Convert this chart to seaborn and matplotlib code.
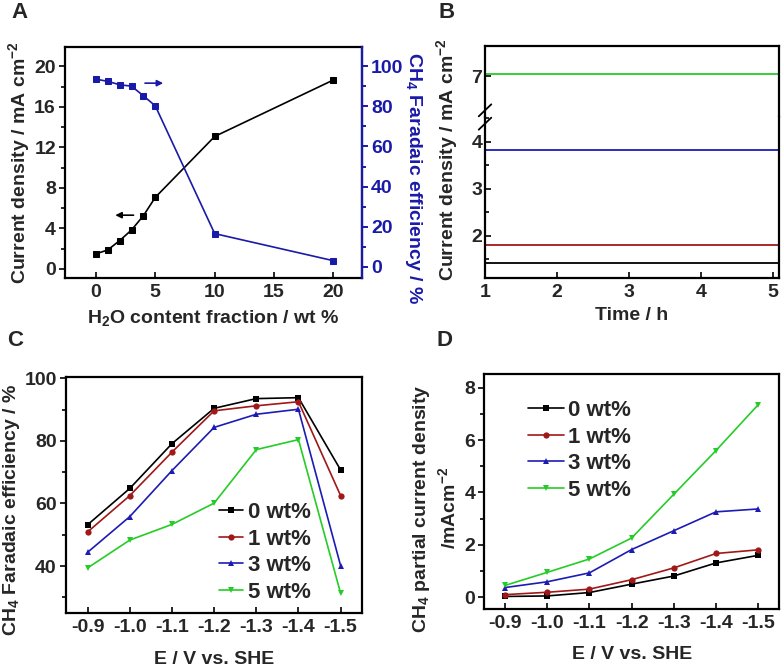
import numpy as np
import pandas as pd
import matplotlib
matplotlib.use('Agg')
import matplotlib.pyplot as plt
from matplotlib.ticker import MultipleLocator
import seaborn as sns

# ---- data ----
# panel A
h2o_wt = [0, 1, 2, 3, 4, 5, 10, 20]
current_a = [1.48, 1.87, 2.79, 3.84, 5.25, 7.06, 13.07, 18.65]
fe_a = [93.5, 92.4, 90.7, 90.0, 85.2, 80.2, 16.6, 3.1]

# panel B (stability, constant current over time)
time_h = [1.0, 5.1]
stab_labels = ['0 wt%', '1 wt%', '3 wt%', '5 wt%']
stab_current = [1.41, 1.80, 3.82, 7.05]

# panels C and D
potential = [-0.9, -1.0, -1.1, -1.2, -1.3, -1.4, -1.5]
potential_labels = ['-0.9', '-1.0', '-1.1', '-1.2', '-1.3', '-1.4', '-1.5']
water = ['0 wt%', '1 wt%', '3 wt%', '5 wt%']
fe_0 = [53.2, 64.8, 79.1, 90.4, 93.5, 93.8, 70.7]
fe_1 = [50.9, 62.5, 76.4, 89.6, 91.2, 92.5, 62.5]
fe_3 = [44.4, 55.8, 70.5, 84.3, 88.5, 90.1, 40.1]
fe_5 = [39.4, 48.3, 53.3, 60.1, 77.2, 80.4, 31.3]
jch4_0 = [0.03, 0.05, 0.18, 0.50, 0.81, 1.31, 1.60]
jch4_1 = [0.10, 0.19, 0.31, 0.67, 1.12, 1.67, 1.81]
jch4_3 = [0.37, 0.59, 0.93, 1.82, 2.54, 3.26, 3.37]
jch4_5 = [0.45, 0.95, 1.46, 2.26, 3.93, 5.60, 7.35]

colors = {'0 wt%': '#000000', '1 wt%': '#a01818', '3 wt%': '#1c1cb4', '5 wt%': '#26cc26'}
markers = {'0 wt%': 's', '1 wt%': 'o', '3 wt%': '^', '5 wt%': 'v'}
blue_a = '#1a1aa8'

# ---- style ----
sns.set_style('ticks')
base = 'Liberation Sans'
plt.rcParams['font.family'] = [base, 'DejaVu Sans']
plt.rcParams['font.weight'] = 'bold'
plt.rcParams['axes.labelweight'] = 'bold'
plt.rcParams['mathtext.fontset'] = 'custom'
plt.rcParams['mathtext.rm'] = base + ':bold'
plt.rcParams['mathtext.bf'] = base + ':bold'
plt.rcParams['mathtext.default'] = 'rm'
plt.rcParams['axes.unicode_minus'] = False
plt.rcParams['axes.linewidth'] = 1.6
plt.rcParams['axes.edgecolor'] = 'black'

FS = 14
W, H = 783, 667
fig = plt.figure(figsize=(W / 100, H / 100), dpi=100)


def px_axes(l, t, r, b):
    return fig.add_axes([l / W, 1 - b / H, (r - l) / W, (b - t) / H])


def style_ticks(ax, xdir='in', ydir='out'):
    ax.tick_params(axis='x', which='both', direction=xdir, labelsize=FS, width=1.4, pad=4)
    ax.tick_params(axis='x', which='major', length=4.5)
    ax.tick_params(axis='y', which='both', direction=ydir, labelsize=FS, width=1.4, pad=2)
    ax.tick_params(axis='y', which='major', length=4.5)
    ax.tick_params(axis='y', which='minor', length=3)


# ---- panel A ----
axA = px_axes(65, 47, 362, 278)
sns.lineplot(x=h2o_wt, y=current_a, ax=axA, color='black', marker='s',
             markersize=5, markeredgecolor='black', linewidth=1.2)
axA.set_xlim(-2.6, 22.4)
axA.set_ylim(-0.9, 21.9)
axA.set_xticks([0, 5, 10, 15, 20])
axA.set_yticks([0, 4, 8, 12, 16, 20])
axA.yaxis.set_minor_locator(MultipleLocator(2))
style_ticks(axA)
axA.set_xlabel('H$_2$O content fraction / wt %', fontsize=FS, labelpad=5)
axA.set_ylabel('Current density / mA cm$^{-2}$', fontsize=FS)
axA.yaxis.set_label_coords(-0.111, 0.5)

axA2 = axA.twinx()
sns.lineplot(x=h2o_wt, y=fe_a, ax=axA2, color=blue_a, marker='s',
             markersize=5, markeredgecolor=blue_a, linewidth=1.2)
axA2.set_ylim(-5.5, 109.5)
axA2.set_yticks([0, 20, 40, 60, 80, 100])
axA2.yaxis.set_minor_locator(MultipleLocator(10))
axA2.tick_params(axis='y', which='both', direction='out', labelsize=FS, width=1.4,
                 colors=blue_a, pad=2)
axA2.tick_params(axis='y', which='major', length=4.5)
axA2.tick_params(axis='y', which='minor', length=3)
axA2.spines['right'].set_color(blue_a)
axA2.set_ylabel('CH$_4$ Faradaic efficiency / %', fontsize=FS, color=blue_a,
                rotation=270, va='center')
axA2.yaxis.set_label_coords(1.175, 0.43)
for sp in ['top', 'left', 'bottom']:
    axA2.spines[sp].set_visible(False)
# arrows pointing to each axis
axA.annotate('', xy=(1.4, 5.3), xytext=(3.4, 5.3),
             arrowprops=dict(arrowstyle='-|>', color='black', lw=1.2, mutation_scale=9))
axA2.annotate('', xy=(5.9, 91.5), xytext=(3.9, 91.5),
              arrowprops=dict(arrowstyle='-|>', color=blue_a, lw=1.2, mutation_scale=9))

# ---- panel B (broken y axis) ----
stab_df = pd.DataFrame({
    'time': time_h * len(stab_labels),
    'current': np.repeat(stab_current, len(time_h)),
    'water': np.repeat(stab_labels, len(time_h)),
})
axB_top = px_axes(485, 46, 779, 117)
axB_bot = px_axes(485, 117, 779, 278)
for ax in (axB_top, axB_bot):
    sns.lineplot(data=stab_df, x='time', y='current', hue='water', palette=colors,
                 ax=ax, legend=False, linewidth=1.3)
    ax.set_xlim(1, 5.08)
    ax.set_xlabel('')
    ax.set_ylabel('')
axB_top.set_ylim(6.13, 7.64)
axB_top.set_yticks([7])
axB_top.set_xticks([])
axB_top.spines['bottom'].set_visible(False)
axB_bot.spines['top'].set_visible(False)
axB_bot.set_ylim(1.1, 4.53)
axB_bot.set_yticks([2, 3, 4])
axB_bot.yaxis.set_minor_locator(MultipleLocator(0.5))
axB_bot.set_xticks([1, 2, 3, 4, 5])
style_ticks(axB_top, 'in', 'in')
style_ticks(axB_bot, 'in', 'in')
axB_bot.set_xlabel('Time / h', fontsize=FS, labelpad=5)
# break marks on the left spine
for dy in (-0.010, 0.010):
    fig.add_artist(plt.Line2D([485 / W - 0.008, 485 / W + 0.008],
                              [1 - 117 / H + dy - 0.009, 1 - 117 / H + dy + 0.009],
                              color='black', lw=1.3))
fig.text(447 / W, 1 - 160 / H, 'Current density / mA cm$^{-2}$', fontsize=FS,
         fontweight='bold', rotation=90, ha='center', va='center')

# ---- panels C and D ----
cd_df = pd.DataFrame({
    'E': potential * len(water),
    'FE': fe_0 + fe_1 + fe_3 + fe_5,
    'j': jch4_0 + jch4_1 + jch4_3 + jch4_5,
    'water': np.repeat(water, len(potential)),
})

axC = px_axes(65.7, 376.7, 361.7, 613.3)
sns.lineplot(data=cd_df, x='E', y='FE', hue='water', style='water', palette=colors,
             markers=markers, dashes=False, markersize=4.5, markeredgewidth=0,
             linewidth=1.2, ax=axC)
axC.set_xlim(-0.9 + 0.052, -1.5 - 0.05)
axC.set_ylim(24.9, 100.5)
axC.set_xticks(potential)
axC.set_xticklabels(potential_labels)
axC.set_yticks([40, 60, 80, 100])
axC.yaxis.set_minor_locator(MultipleLocator(10))
style_ticks(axC)
axC.set_xlabel('E / V vs. SHE', fontsize=FS, labelpad=11)
axC.set_ylabel('CH$_4$ Faradaic efficiency / %', fontsize=FS)
axC.yaxis.set_label_coords(-0.146, 0.437)
h, l = axC.get_legend_handles_labels()
axC.legend(h, l, loc='lower left', bbox_to_anchor=(0.518, 0.045), frameon=False,
           fontsize=FS + 2, handlelength=1.1, handletextpad=0.2, labelspacing=0.25,
           borderpad=0, borderaxespad=0)

axD = px_axes(484.3, 374.3, 779.3, 609.3)
sns.lineplot(data=cd_df, x='E', y='j', hue='water', style='water', palette=colors,
             markers=markers, dashes=False, markersize=4.5, markeredgewidth=0,
             linewidth=1.2, ax=axD)
axD.set_xlim(-0.9 + 0.049, -1.5 - 0.05)
axD.set_ylim(-0.46, 8.51)
axD.set_xticks(potential)
axD.set_xticklabels(potential_labels)
axD.set_yticks([0, 2, 4, 6, 8])
axD.yaxis.set_minor_locator(MultipleLocator(1))
style_ticks(axD)
axD.set_xlabel('E / V vs. SHE', fontsize=FS, labelpad=10)
axD.set_ylabel('CH$_4$ partial current density\n/mAcm$^{-2}$', fontsize=FS,
               multialignment='center', linespacing=1.3)
axD.yaxis.set_label_coords(-0.085, 0.43)
h, l = axD.get_legend_handles_labels()
axD.legend(h, l, loc='upper left', bbox_to_anchor=(0.148, 0.89), frameon=False,
           fontsize=FS + 2, handlelength=1.6, handletextpad=0.2, labelspacing=0.25,
           borderpad=0, borderaxespad=0)

# panel letters
for letter, x, y in [('A', 20, 13), ('B', 447, 13), ('C', 15, 340), ('D', 444, 340)]:
    fig.text(x / W, 1 - y / H, letter, fontsize=FS + 2, fontweight='bold',
             ha='center', va='center')

fig.savefig('out.png', dpi=100)
